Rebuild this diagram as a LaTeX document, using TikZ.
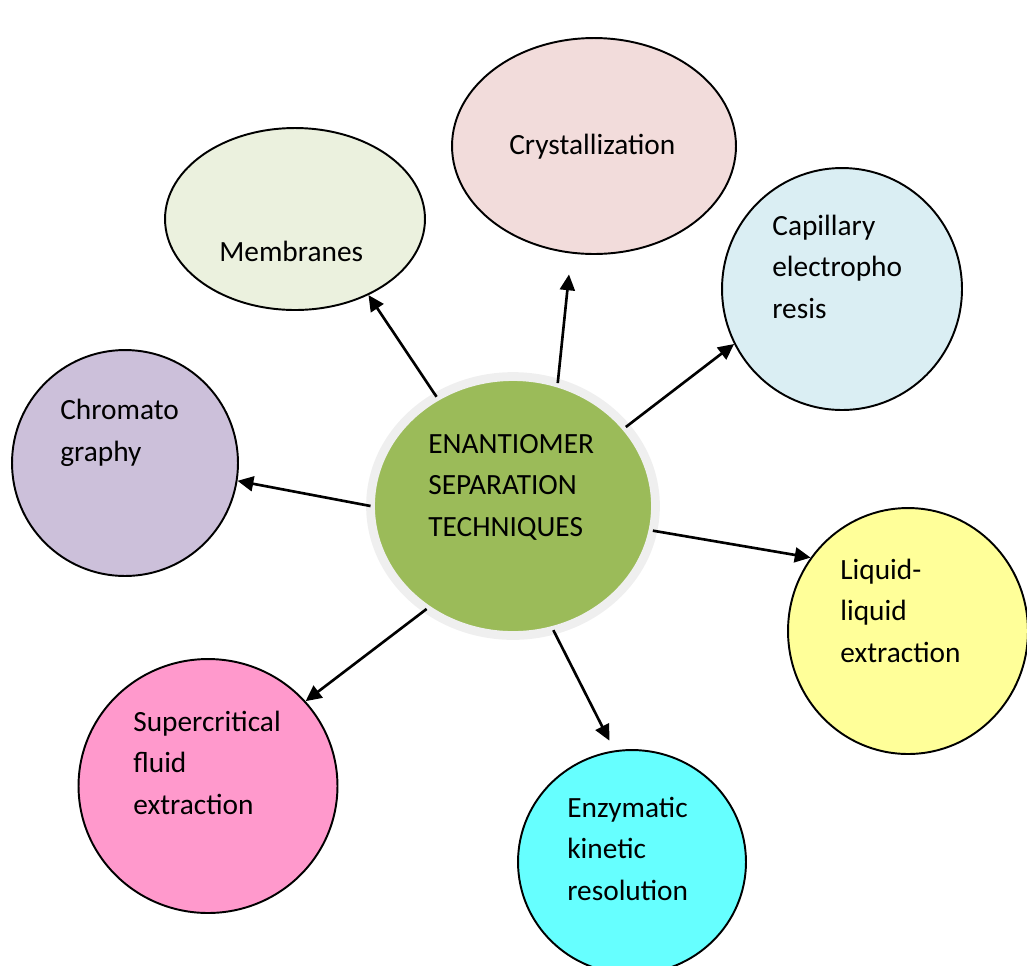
\documentclass[tikz,border=0pt]{standalone}
\usepackage{fontspec}
\setmainfont{Carlito}
\usetikzlibrary{shapes.geometric,arrows.meta}
\definecolor{hubGreen}{HTML}{9BBB59}
\definecolor{hubRing}{HTML}{EFEFEF}
\definecolor{crystFill}{HTML}{F2DCDB}
\definecolor{membFill}{HTML}{EBF1DE}
\definecolor{capilFill}{HTML}{DAEEF3}
\definecolor{chromFill}{HTML}{CCC0DA}
\definecolor{liquidFill}{HTML}{FFFF99}
\definecolor{superFill}{HTML}{FF99CC}
\definecolor{enzymFill}{HTML}{66FFFF}

\begin{document}
\begin{tikzpicture}[
  x=0.02cm,
  y=-0.02cm,
  bubble/.style={
    ellipse,
    draw=black,
    line width=1.1pt,
    inner sep=0pt,
  },
  hub/.style={
    ellipse,
    draw=hubRing,
    line width=5pt,
    fill=hubGreen,
    outer sep=0pt,
    minimum width=5.7cm,
    minimum height=5.18cm,
  },
  bubble text/.style={
    anchor=base west,
    align=left,
    inner sep=0pt,
    font=\fontsize{16.7}{23.4}\selectfont,
  },
  spoke/.style={
    -{Triangle[length=9pt,width=8.5pt]},
    line width=1.5pt,
  },
]
\useasboundingbox (0,0) rectangle (1027,965);
\node[hub] (hub) at (513,506) {};
\node[bubble,fill=crystFill,minimum width=5.68cm,minimum height=4.32cm] (cryst) at (594,146) {};
\node[bubble,fill=membFill,minimum width=5.2cm,minimum height=3.64cm] (memb) at (295,219) {};
\node[bubble,fill=capilFill,minimum width=4.8cm,minimum height=4.84cm] (capil) at (842,289) {};
\node[bubble,fill=chromFill,minimum width=4.52cm,minimum height=4.52cm] (chrom) at (125,463) {};
\node[bubble,fill=liquidFill,minimum width=4.8cm,minimum height=4.92cm] (liquid) at (908,631) {};
\node[bubble,fill=superFill,minimum width=5.18cm,minimum height=5.08cm] (super) at (208,786) {};
\node[bubble,fill=enzymFill,minimum width=4.56cm,minimum height=4.48cm] (enzym) at (632,862) {};
% texts (base = last line)
\node[bubble text] (hub-t) at (428,536) {ENANTIOMER\\SEPARATION\\TECHNIQUES};
\node[bubble text] (cryst-t) at (509,154) {Crystallization};
\node[bubble text] (memb-t) at (219,261) {Membranes};
\node[bubble text] (capil-t) at (772,318) {Capillary\\electropho\\resis};
\node[bubble text] (chrom-t) at (60,461) {Chromato\\graphy};
\node[bubble text] (liquid-t) at (840,662) {Liquid-\\liquid\\extraction};
\node[bubble text] (super-t) at (133,814) {Supercritical\\fluid\\extraction};
\node[bubble text] (enzym-t) at (567,900) {Enzymatic\\kinetic\\resolution};
% spokes
\draw[spoke] (hub.125.6) -- (memb.-46);
\draw[spoke,shorten >=0.42cm] (hub.70.8) -- (cryst.-102.9);
\draw[spoke] (hub.35.6) -- (capil.-153.6);
\draw[spoke] (hub.180.4) -- (chrom.-9);
\draw[spoke] (hub.-10.8) -- (liquid.143.8);
\draw[spoke] (hub.-130.9) -- (super.41);
\draw[spoke,shorten >=0.22cm] (hub.-72.8) -- (enzym.99.3);
\end{tikzpicture}
\end{document}
